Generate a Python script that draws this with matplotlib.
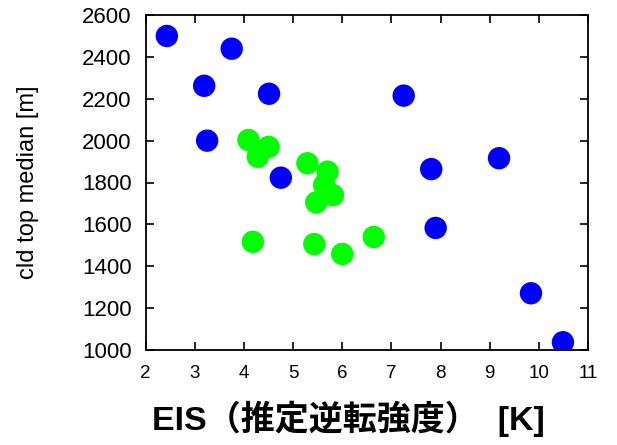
import matplotlib
matplotlib.use("Agg")
import matplotlib.pyplot as plt

# EIS [K] vs median cloud-top height [m]
blue_eis = [2.43, 3.75, 3.19, 4.51, 3.25, 4.75, 7.25, 7.81, 9.19, 7.90, 9.84, 10.49]
blue_top = [2500, 2439, 2262, 2224, 2000, 1823, 2215, 1864, 1916, 1583, 1271, 1037]

green_eis = [4.09, 4.50, 4.28, 5.29, 5.70, 5.63, 5.81, 5.47, 4.18, 5.43, 6.00, 6.64]
green_top = [2003, 1970, 1923, 1892, 1852, 1788, 1740, 1705, 1517, 1506, 1459, 1540]

xticks = list(range(2, 12))
yticks = list(range(1000, 2601, 200))

plt.rcParams['font.family'] = ['Liberation Sans', 'Noto Sans CJK JP']

fig = plt.figure(figsize=(6.17, 4.45), dpi=100)
ax = fig.add_axes([145.7/617, 95/445, 442.3/617, 335/445])

ax.scatter(blue_eis, blue_top, s=260, color='#0000ff', edgecolors='none', zorder=3)
ax.scatter(green_eis, green_top, s=260, color='#00ff00', edgecolors='none', zorder=4)

ax.set_xlim(2, 11)
ax.set_ylim(1000, 2600)
ax.set_xticks(xticks)
ax.set_yticks(yticks)
ax.tick_params(axis='both', which='major', direction='in', length=6, width=1.2,
               top=True, right=True)
ax.tick_params(axis='x', labelsize=13.5, pad=11)
ax.tick_params(axis='y', labelsize=16, pad=10)
for sp in ax.spines.values():
    sp.set_linewidth(1.3)

fig.text(28/617, 1 - 182/445, 'cld top median [m]', rotation=90,
         ha='center', va='center', fontsize=17)
fig.text(348/617, 1 - 419/445, 'EIS（推定逆転強度）  [K]',
         ha='center', va='center', fontsize=24.5, fontweight='bold')

fig.savefig('out.png', dpi=100)
